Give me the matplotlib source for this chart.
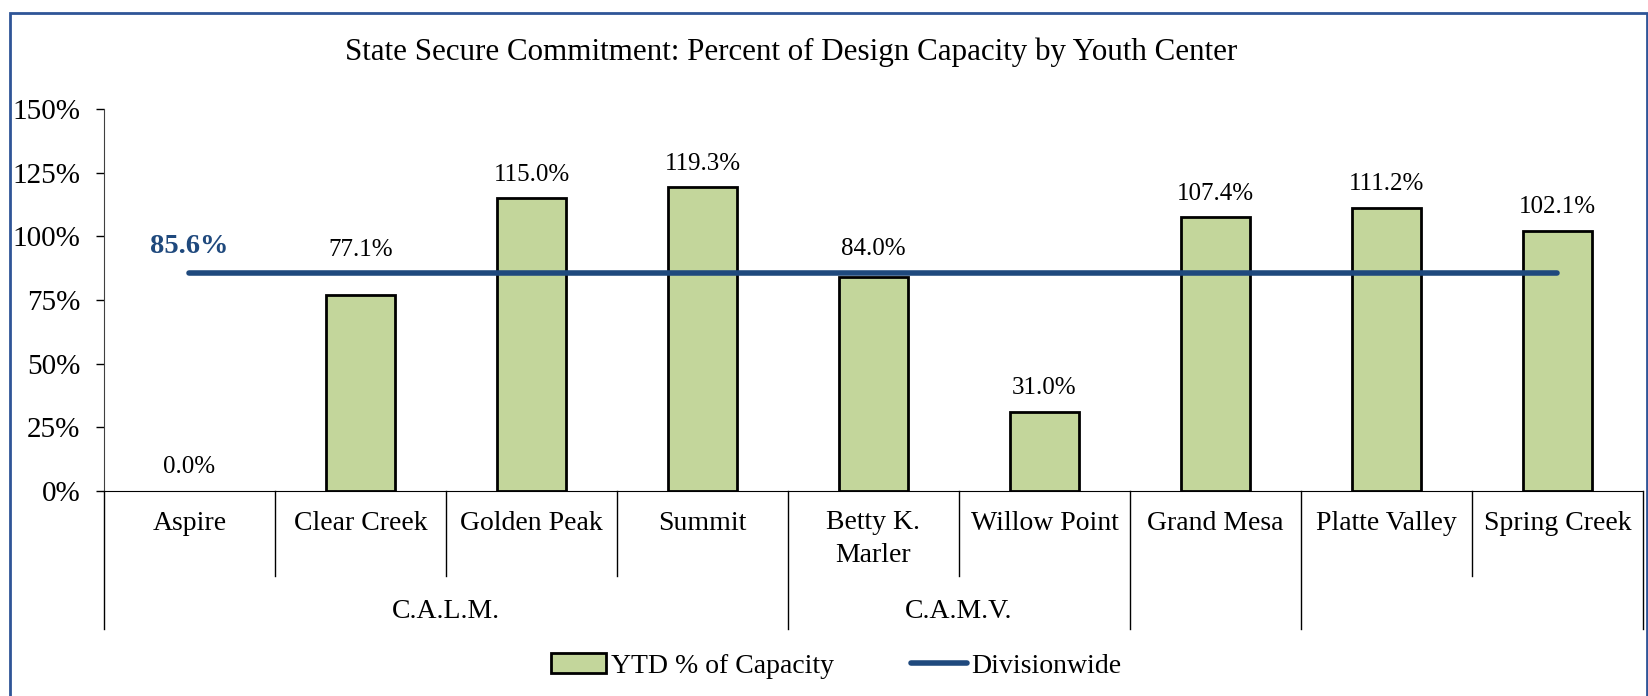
import numpy as np
import matplotlib
matplotlib.use('Agg')
import matplotlib.pyplot as plt
from matplotlib.patches import Patch, Rectangle
from matplotlib.lines import Line2D

plt.rcParams['font.family'] = ['Liberation Serif', 'DejaVu Serif']

# data
centers = ['Aspire', 'Clear Creek', 'Golden Peak', 'Summit', 'Betty K.\nMarler',
           'Willow Point', 'Grand Mesa', 'Platte Valley', 'Spring Creek']
pct_capacity = [0.0, 77.1, 115.0, 119.3, 84.0, 31.0, 107.4, 111.2, 102.1]
divisionwide = 85.6
groups = ['C.A.L.M.', 'C.A.M.V.', '', '']
group_sizes = [4, 2, 1, 2]
yticks = [0, 25, 50, 75, 100, 125, 150]

bar_green = '#C3D69B'
line_blue = '#1F497D'

fig = plt.figure(figsize=(16.49, 6.96), dpi=100)
ax = fig.add_axes([104 / 1649, 205 / 696, 1539 / 1649, 382 / 696])

x = np.arange(len(centers))
ax.bar(x, pct_capacity, width=0.4, color=bar_green,
       edgecolor=['black' if v > 0 else 'none' for v in pct_capacity],
       linewidth=2, zorder=2)
ax.plot([x[0], x[-1]], [divisionwide, divisionwide], color=line_blue, lw=4,
        solid_capstyle='round', zorder=3)

# value labels (a couple are nudged up the way Excel placed them)
nudge = {1: 15, 4: 3}
for i, v in enumerate(pct_capacity):
    ax.annotate(f'{v:.1f}%', (x[i], v), xytext=(0, 17 + nudge.get(i, 0)),
                textcoords='offset points', ha='center', va='center', fontsize=18)
ax.annotate(f'{divisionwide:.1f}%', (x[0], divisionwide), xytext=(0, 19),
            textcoords='offset points', ha='center', va='center', fontsize=20.5,
            fontweight='bold', color=line_blue)

ax.set_xlim(-0.5, len(centers) - 0.5)
ax.set_ylim(0, 150)
ax.set_yticks(yticks)
ax.set_yticklabels([f'{t}%' for t in yticks], fontsize=21)
ax.tick_params(axis='y', direction='out', length=6, width=1, pad=11, colors='black')
ax.tick_params(axis='x', length=0, labelbottom=False)
for s in ['top', 'right']:
    ax.spines[s].set_visible(False)
ax.spines['left'].set_color('#404040')
ax.spines['bottom'].set_color('black')

# two-level category axis
tr = ax.get_xaxis_transform()
short_y, long_y = -0.223, -0.36
for i, name in enumerate(centers):
    if '\n' in name:
        ax.text(x[i], -0.05, name, transform=tr, ha='center', va='top',
                fontsize=20, linespacing=1.4)
    else:
        ax.text(x[i], -0.085, name, transform=tr, ha='center', va='center', fontsize=20)
bounds = np.cumsum([0] + group_sizes) - 0.5
for i in range(1, len(centers)):
    if i - 0.5 not in bounds:
        ax.plot([i - 0.5, i - 0.5], [0, short_y], transform=tr, color='black', lw=1, clip_on=False)
for b in bounds:
    ax.plot([b, b], [0, long_y], transform=tr, color='black', lw=1, clip_on=False)
for g, lo, hi in zip(groups, bounds[:-1], bounds[1:]):
    ax.text((lo + hi) / 2, -0.315, g, transform=tr, ha='center', va='center', fontsize=20)

fig.text(0.48, 0.925, 'State Secure Commitment: Percent of Design Capacity by Youth Center',
         ha='center', va='center', fontsize=22.3)

handles = [Patch(facecolor=bar_green, edgecolor='black', linewidth=2),
           Line2D([0], [0], color=line_blue, lw=4, solid_capstyle='round')]
fig.legend(handles, ['YTD % of Capacity', 'Divisionwide'], loc='center',
           bbox_to_anchor=(0.507, 0.043), ncol=2, frameon=False, fontsize=20,
           handlelength=2.0, handletextpad=0.15, columnspacing=2.8)

# outer chart border
fig.patches.append(Rectangle((10 / 1649, -0.05), 1637 / 1649, 1.05 - 13 / 696,
                             transform=fig.transFigure, fill=False,
                             edgecolor='#2F5597', lw=2))

fig.savefig('out.png', dpi=100)
